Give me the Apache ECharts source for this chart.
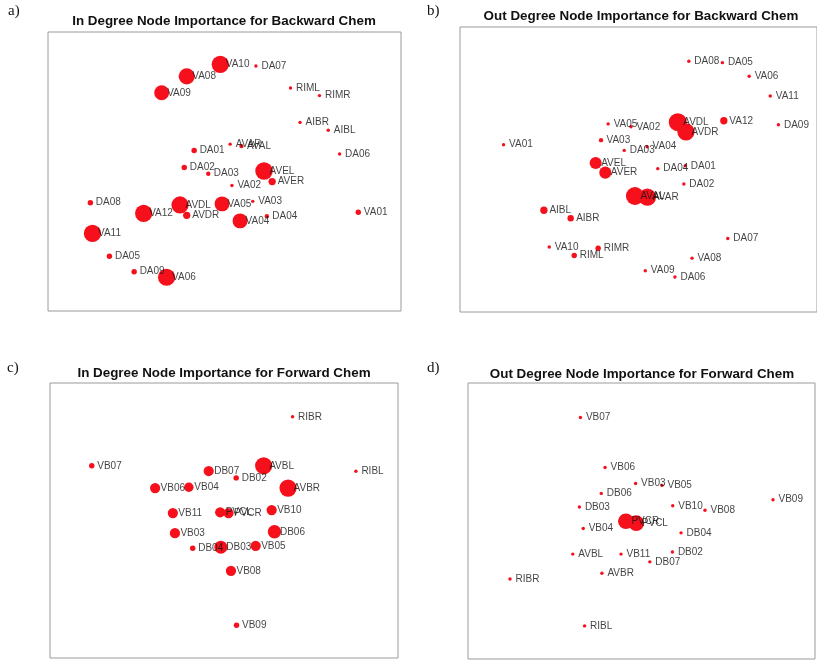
<!DOCTYPE html>
<html>
<head>
<meta charset="utf-8">
<script src="https://cdn.jsdelivr.net/npm/echarts@6/dist/echarts.min.js"></script>
<style>
  html, body { margin: 0; padding: 0; background: #fff; }
  #chart { width: 817px; height: 660px; }
</style>
</head>
<body>
<div id="chart"></div>
<script>
// Network layouts: node names, layout coordinates (0-100) and node importance (0-1)

// a) In degree, backward chem
const aNames = ['VA10','DA07','VA08','VA09','RIML','RIMR','AIBR','AIBL','AVAR','AVAL','DA01','DA06','DA02','DA03','AVEL','AVER','VA02','DA08','VA12','AVDL','AVDR','VA05','VA03','VA04','DA04','VA01','VA11','DA05','DA09','VA06'];
const aX = [48.8,58.9,39.3,32.2,68.7,76.9,71.4,79.4,51.6,54.8,41.4,82.6,38.6,45.4,61.2,63.5,52.1,12.0,27.1,37.4,39.3,49.3,58.0,54.4,62.0,87.9,12.6,17.4,24.4,33.6];
const aY = [88.4,87.8,84.1,78.2,79.9,77.2,67.6,64.8,59.8,59.1,57.5,56.3,51.4,49.2,50.2,46.4,45.0,38.8,35.0,38.0,34.3,38.4,39.3,32.3,34.0,35.4,27.8,19.6,14.1,12.1];
const aImp = [0.95,0.06,0.88,0.80,0.06,0.06,0.06,0.06,0.06,0.12,0.19,0.06,0.19,0.12,0.97,0.31,0.06,0.19,0.95,0.95,0.31,0.80,0.06,0.80,0.12,0.19,0.95,0.19,0.19,0.95];

// b) Out degree, backward chem
const bNames = ['DA08','DA05','VA06','VA11','AVDL','AVDR','VA12','DA09','VA05','VA02','VA03','VA01','VA04','DA03','AVEL','AVER','DA04','DA01','DA02','AVAL','AVAR','AIBL','AIBR','DA07','VA10','RIMR','RIML','VA08','VA09','DA06'];
const bX = [64.1,73.5,81.0,86.9,61.0,63.3,73.9,89.2,41.5,47.9,39.5,12.2,52.4,46.0,38.0,40.7,55.4,63.1,62.7,49.0,52.5,23.5,31.0,75.0,25.0,38.7,32.0,65.0,51.9,60.2];
const bY = [88.0,87.5,82.7,75.8,66.6,63.2,67.1,65.7,66.0,65.0,60.3,58.7,58.0,56.7,52.3,48.9,50.3,51.3,44.9,40.7,40.3,35.7,32.9,25.8,22.8,22.4,19.8,18.9,14.5,12.3];
const bImp = [0.06,0.06,0.06,0.06,1.00,0.95,0.31,0.06,0.06,0.06,0.12,0.06,0.06,0.06,0.62,0.62,0.06,0.06,0.06,1.00,0.95,0.31,0.25,0.06,0.06,0.19,0.19,0.06,0.06,0.06];

// c) In degree, forward chem
const cNames = ['RIBR','VB07','AVBL','RIBL','DB07','DB02','VB06','VB04','AVBR','VB11','PVCL','PVCR','VB10','VB03','DB06','DB04','DB03','VB05','VB08','VB09'];
const cX = [69.7,12.0,61.4,87.9,45.6,53.5,30.2,39.9,68.4,35.3,48.9,51.3,63.7,35.9,64.5,41.0,49.1,59.1,52.0,53.6];
const cY = [87.7,69.9,69.9,67.9,68.0,65.5,61.8,62.1,61.8,52.7,53.0,52.7,53.8,45.4,45.9,39.9,40.3,40.8,31.7,11.9];
const cImp = [0.06,0.19,0.95,0.06,0.50,0.19,0.50,0.45,0.95,0.50,0.50,0.50,0.50,0.50,0.70,0.19,0.68,0.50,0.50,0.19];

// d) Out degree, forward chem
const dNames = ['VB07','VB06','VB03','VB05','DB06','VB09','DB03','VB10','VB08','PVCR','PVCL','VB04','DB04','AVBL','VB11','DB02','DB07','AVBR','RIBR','RIBL'];
const dX = [32.4,39.5,48.3,55.9,38.4,87.9,32.1,59.0,68.3,45.5,48.5,33.2,61.4,30.2,44.1,58.9,52.4,38.6,12.1,33.6];
const dY = [87.5,69.4,63.6,62.9,60.0,57.7,55.1,55.5,53.9,49.9,49.2,47.3,45.7,38.0,38.0,38.8,35.2,31.1,29.0,12.0];
const dImp = [0.06,0.06,0.06,0.06,0.06,0.06,0.06,0.06,0.06,0.85,0.85,0.06,0.06,0.06,0.06,0.06,0.06,0.06,0.06,0.06];

const titles = [
  'In Degree Node Importance for Backward Chem',
  'Out Degree Node Importance for Backward Chem',
  'In Degree Node Importance for Forward Chem',
  'Out Degree Node Importance for Forward Chem'
];
const panelTags = ['a)', 'b)', 'c)', 'd)'];

const panels = [
  { names: aNames, x: aX, y: aY, imp: aImp, grid: { left: 48, top: 32, width: 353, height: 279 }, title: [224, 21.5], tag: [8, 4] },
  { names: bNames, x: bX, y: bY, imp: bImp, grid: { left: 460, top: 27, width: 357, height: 285 }, title: [641, 16.5], tag: [427, 4] },
  { names: cNames, x: cX, y: cY, imp: cImp, grid: { left: 50, top: 383, width: 348, height: 275 }, title: [224, 373], tag: [7, 361] },
  { names: dNames, x: dX, y: dY, imp: dImp, grid: { left: 468, top: 383, width: 347, height: 276 }, title: [642, 374], tag: [427, 361] }
];

const RED = '#f5101c';
const sizeOf = v => 2.5 + 15.5 * v;

const grid = [], xAxis = [], yAxis = [], series = [], graphic = [];

panels.forEach((p, i) => {
  grid.push(Object.assign({ show: true, borderColor: '#9a9a9a', borderWidth: 1, backgroundColor: 'transparent' }, p.grid));
  xAxis.push({ gridIndex: i, type: 'value', min: 0, max: 100, show: false });
  yAxis.push({ gridIndex: i, type: 'value', min: 0, max: 100, show: false });

  const pts = p.names.map((n, k) => ({ name: n, value: [p.x[k], p.y[k], p.imp[k]] }));

  // node circles sized by importance
  series.push({
    type: 'scatter', xAxisIndex: i, yAxisIndex: i, silent: true, z: 2,
    data: pts,
    symbol: 'circle',
    symbolSize: v => sizeOf(v[2]),
    itemStyle: { color: RED, opacity: 1 },
    label: { show: false }
  });

  // node name labels, anchored just right of each node centre
  series.push({
    type: 'scatter', xAxisIndex: i, yAxisIndex: i, silent: true, z: 3,
    data: pts,
    symbol: 'circle',
    symbolSize: 1,
    itemStyle: { color: 'rgba(0,0,0,0)' },
    label: {
      show: true, position: 'right', distance: 5,
      formatter: d => d.name,
      color: '#111', fontSize: 10, fontFamily: 'Liberation Sans, Arial, sans-serif'
    }
  });

  graphic.push({
    type: 'text', x: p.title[0], y: p.title[1], silent: true,
    style: {
      text: titles[i], textAlign: 'center', textVerticalAlign: 'middle',
      font: 'bold 13.4px "Liberation Sans", Arial, sans-serif', fill: '#111'
    }
  });
  graphic.push({
    type: 'text', x: p.tag[0], y: p.tag[1], silent: true,
    style: {
      text: panelTags[i], textAlign: 'left', textVerticalAlign: 'top',
      font: '15px "Liberation Serif", "Times New Roman", serif', fill: '#111'
    }
  });
});

const chart = echarts.init(document.getElementById('chart'), null, { renderer: 'canvas' });
chart.setOption({
  animation: false,
  backgroundColor: '#fff',
  grid, xAxis, yAxis, series, graphic
});
</script>
</body>
</html>
